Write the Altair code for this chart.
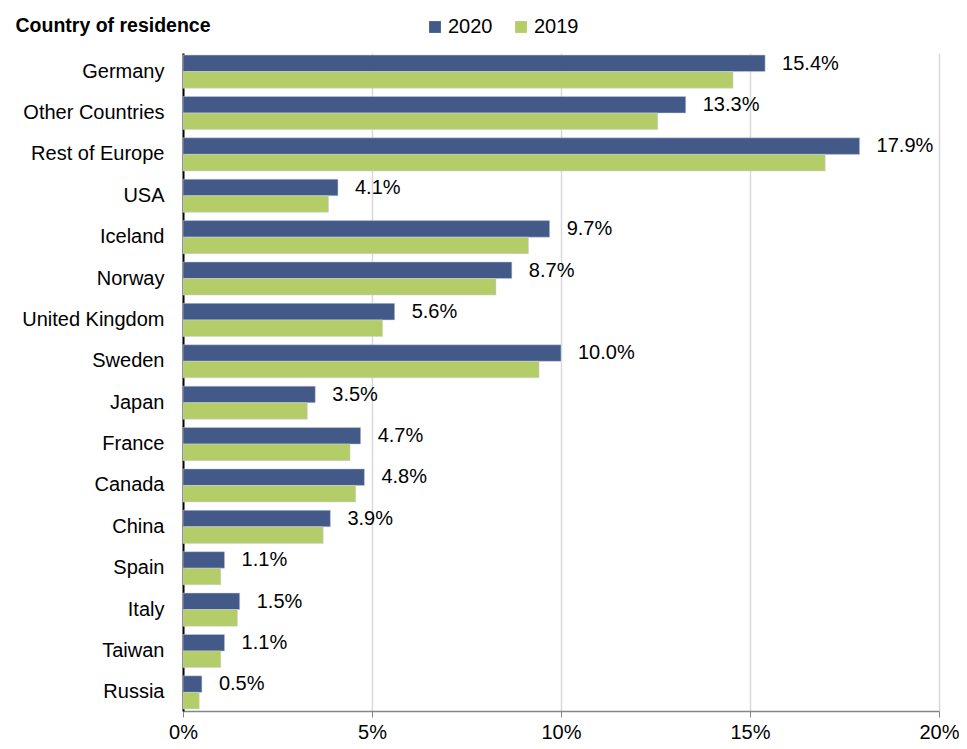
import altair as alt
import pandas as pd

countries = ["Germany", "Other Countries", "Rest of Europe", "USA", "Iceland", "Norway",
             "United Kingdom", "Sweden", "Japan", "France", "Canada", "China", "Spain",
             "Italy", "Taiwan", "Russia"]
v2020 = [15.4, 13.3, 17.9, 4.1, 9.7, 8.7, 5.6, 10.0, 3.5, 4.7, 4.8, 3.9, 1.1, 1.5, 1.1, 0.5]
v2019 = [14.55, 12.56, 16.99, 3.85, 9.14, 8.28, 5.28, 9.42, 3.29, 4.42, 4.57, 3.71, 1.0, 1.44, 1.0, 0.43]
years = ["2020", "2019"]
colors = ["#435A88", "#B5CD68"]

rows = []
for c, a, b in zip(countries, v2020, v2019):
    rows.append({"country": c, "year": "2020", "value": a})
    rows.append({"country": c, "year": "2019", "value": b})
df = pd.DataFrame(rows)
lab = pd.DataFrame({"country": countries, "value": v2020})

FONT = "Liberation Sans"
FS = 20

y_enc = alt.Y("country:N", sort=countries,
              scale=alt.Scale(paddingInner=0.2, paddingOuter=0.05),
              axis=alt.Axis(title="Country of residence", titleAngle=0, titleX=-168, titleY=-22,
                            titleAlign="left", titleBaseline="alphabetic", titleFont=FONT,
                            titleFontSize=19.5, titleFontWeight="bold", titleColor="#000",
                            labelFont=FONT, labelFontSize=FS, labelColor="#000",
                            labelPadding=19, ticks=False, domainColor="#000",
                            domainWidth=2, grid=False))
x_enc = alt.X("value:Q", scale=alt.Scale(domain=[0, 20], nice=False),
              axis=alt.Axis(values=[0, 5, 10, 15, 20], labelExpr="datum.value + '%'",
                            title=None, labelFont=FONT, labelFontSize=FS, labelColor="#000",
                            labelFlush=False, labelOverlap=False,
                            tickSize=6, tickColor="#868686", domainColor="#868686",
                            domainWidth=1.5, gridColor="#d9d9d9", gridWidth=1.5,
                            labelPadding=5))

bars = alt.Chart(df).mark_bar(stroke="#c8d0e0", strokeWidth=0.5).encode(
    y=y_enc,
    x=x_enc,
    yOffset=alt.YOffset("year:N", sort=years, scale=alt.Scale(paddingInner=0, paddingOuter=0)),
    color=alt.Color("year:N", sort=years,
                    scale=alt.Scale(domain=years, range=colors),
                    legend=alt.Legend(orient="none", legendX=242, legendY=-36,
                                      direction="horizontal", title=None,
                                      symbolType="square", symbolSize=140,
                                      symbolStrokeWidth=0, labelFont=FONT,
                                      labelFontSize=FS, labelColor="#000",
                                      labelOffset=3, columnPadding=18)),
)

labels = alt.Chart(lab).transform_calculate(
    txt="format(datum.value, '.1f') + '%'"
).mark_text(align="left", baseline="middle", dx=17, dy=-8, font=FONT, fontSize=FS,
            color="#000").encode(
    y=alt.Y("country:N", sort=countries),
    x=alt.X("value:Q"),
    text="txt:N",
)

chart = alt.layer(bars, labels).properties(
    width=756, height=658,
    autosize=alt.AutoSizeParams(type="none"),
    padding={"left": 175, "top": 45, "right": 20, "bottom": 36},
).configure_view(stroke=None)

chart.save("out.html", embed_options={"renderer": "svg", "actions": False})
